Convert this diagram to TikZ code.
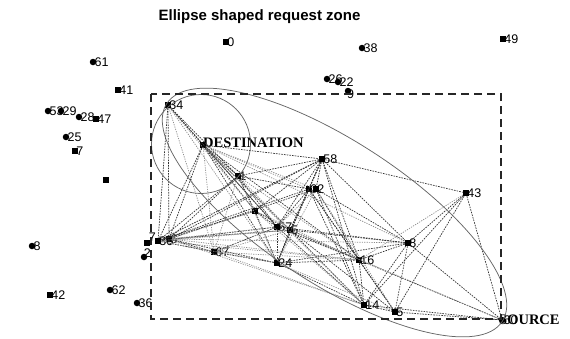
\documentclass[tikz,border=0pt]{standalone}
\usepackage{fontspec}
\setmainfont{Liberation Serif}
\setsansfont{Liberation Sans}
\usepackage{tikz}
\usetikzlibrary{arrows,calc}
\usetikzlibrary{positioning}

\begin{document}
\begin{tikzpicture}[x=1pt,y=-1pt,label distance=-2pt,
  every label/.style={font=\sffamily\fontsize{12.5}{13}\selectfont, inner sep=0pt}]
	\tikzstyle{vert}=[fill=black, rectangle, inner sep=0pt, minimum size=6pt]
	\tikzstyle{vertc}=[fill=black, circle, inner sep=0pt, minimum size=6.5pt]
	\tikzstyle{tag}=[font=\bfseries\fontsize{14.5}{15}\selectfont, inner sep=0pt, anchor=west]
	\tikzstyle{lnk}=[draw=black!80, dash pattern=on 1.6pt off 1.1pt, line width=.7pt]
	\tikzstyle{lnkg}=[draw=black!45, dash pattern=on 1.2pt off 1.2pt, line width=.7pt]
	\tikzstyle{box}=[draw=black!85, line width=1.2pt, dash pattern=on 8pt off 5pt]
	\tikzstyle{zone}=[draw=black!60, line width=.75pt]
	\useasboundingbox (0,0) rectangle (570,338);
	\node[font=\sffamily\bfseries\fontsize{15}{15}\selectfont] (title) at (259.5,17) {Ellipse shaped request zone};
	% nodes outside the box
	\node[vert]  (0)  at (226,42)  [label={0:0}]  {};
	\node[vertc] (38) at (362,48)  [label={0:38}] {};
	\node[vert]  (49) at (503,39)  [label={0:49}] {};
	\node[vertc] (61) at (93,62)   [label={0:61}] {};
	\node[vertc] (26) at (327,79)  [label={0:26}] {};
	\node[vertc] (22) at (338,82)  [label={0:22}] {};
	\node[vertc] (9)  at (348,91)  [label={[label distance=-5pt]-40:9}] {};
	\node[vert]  (41) at (118,90)  [label={0:41}] {};
	\node[vertc] (53) at (48,111)  [label={0:53}] {};
	\node[vertc] (29) at (61,111)  [label={0:29}] {};
	\node[vertc] (28) at (79,117)  [label={0:28}] {};
	\node[vert]  (47) at (96,119)  [label={0:47}] {};
	\node[vertc] (25) at (66,137)  [label={0:25}] {};
	\node[vert]  (7b) at (75,151)  [label={0:7}]  {};
	\node[vert]  (x)  at (106,180) {};
	\node[vertc] (8)  at (32,246)  [label={0:8}]  {};
	\node[vert]  (42) at (50,295)  [label={0:42}] {};
	\node[vertc] (62) at (110,290) [label={0:62}] {};
	\node[vertc] (36) at (137,303) [label={0:36}] {};
	% nodes in the box
	\node[vert]  (34) at (168,105) [label={0:34}] {};
	\node[vert]  (dst) at (203,145) {};
	\node[tag] (dsttxt) at (203,143) {DESTINATION};
	\node[vert]  (58) at (322,159) [label={0:58}] {};
	\node[vert]  (1)  at (238,176) [label={0:1}]  {};
	\node[vert]  (0b) at (309,189) [label={0:0}]  {};
	\node[vert]  (2b) at (316,189) [label={0:2}]  {};
	\node[vert]  (4)  at (255,211) {};
	\node[vert]  (57) at (277,227) [label={0:57}] {};
	\node[vert]  (5b) at (290,230) [label={0:5}]  {};
	\node[vert]  (24) at (277,263) [label={0:24}] {};
	\node[vert]  (67) at (214,252) [label={0:67}] {};
	\node[vert]  (30) at (158,241) [label={0:30}] {};
	\node[vert]  (6b) at (169,239) [label={0:6}]  {};
	\node[vert]  (7)  at (147,243) [label={[label distance=-2pt]45:7}] {};
	\node[vertc] (2)  at (144,257) [label={[label distance=-4pt]45:2}] {};
	\node[vert]  (8b) at (408,243) [label={0:8}]  {};
	\node[vert]  (16) at (359,260) [label={0:16}] {};
	\node[vert]  (43) at (466,193) [label={0:43}] {};
	\node[vert]  (14) at (364,305) [label={0:14}] {};
	\node[vert]  (5)  at (395,312) [label={0:5}]  {};
	\node[vertc] (src) at (502,320) [label={0:60}] {};
	\node[tag] (srctxt) at (499,320) {SOURCE};
	% links
	\foreach \a/\bs in {34/{dst,1,30,6b,57}, dst/{58,1,4,57,5b,24,30,6b,16},
	  58/{43,8b,16,14,0b,2b,1,4,57,5b,24,30,6b}, 1/{0b,4,57,30,6b},
	  0b/{57,5b,24,16,14,30,5}, 2b/{16,14,8b,6b}, 4/{57,5b,30,24},
	  57/{24,16,14,8b,30,67}, 5b/{24,16,14,8b,6b,5}, 24/{16,14,8b,67,6b},
	  67/{30,6b}, 8b/{43,16,14,5,src}, 43/{5,14,src}, 16/{14,5,src}, 14/{5,src}, 5/{src}}
	  \foreach \b in \bs
	    \path[lnk] (\a) edge (\b);
	\foreach \a/\bs in {34/{4,67,24}, dst/{67,0b,2b,8b,14}, 1/{5b,24,16,67},
	  2b/{57,24,5}, 30/{24,16,5b}, 6b/{57,5b,16,14,8b}, 67/{57,5b,16,14},
	  4/{6b,16,14}, 24/{5}, 16/{43}, src/{5b}}
	  \foreach \b in \bs
	    \path[lnkg] (\a) edge (\b);
	% request zones
	\draw[zone] (201,144) circle [radius=49.5pt];
	\draw[zone, rotate around={-33:(334.5,212.5)}] (334.5,212.5) ellipse [x radius=200pt, y radius=71.5pt];
	\draw[box] (151,94) rectangle (501,319);
\end{tikzpicture}
\end{document}
